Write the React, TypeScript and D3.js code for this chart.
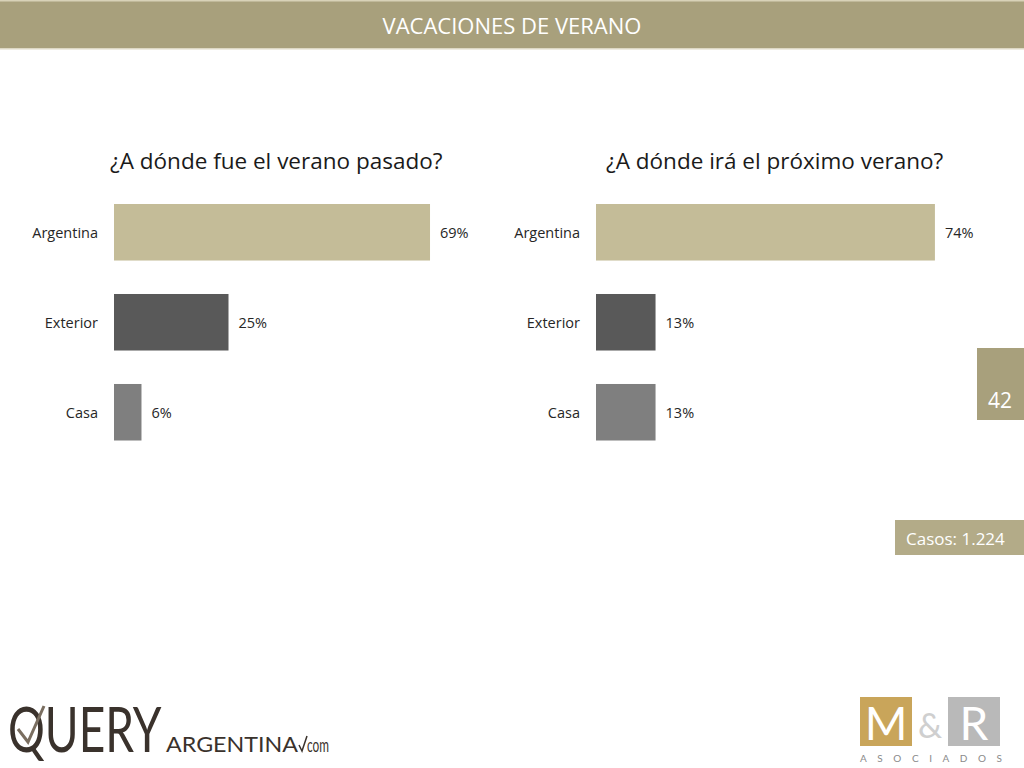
import React from 'react';
import * as d3 from 'd3';

const categories = ['Argentina', 'Exterior', 'Casa'];
const pastSummer = [69, 25, 6];
const nextSummer = [74, 13, 13];
const chartTitles = ['¿A dónde fue el verano pasado?', '¿A dónde irá el próximo verano?'];
const barColors = ['#c4bc98', '#595959', '#7f7f7f'];

const headerTitle = 'VACACIONES DE VERANO';
const pageNumber = '42';
const casesLabel = 'Casos: 1.224';

const GOLD = '#a8a07c';
const FONT = '"Open Sans", "Noto Sans", sans-serif';

interface BarChartProps {
  values: number[];
  title: string;
  x0: number;
  titleX: number;
}

const BarChart: React.FC<BarChartProps> = ({ values, title, x0, titleX }) => {
  // horizontal scale: pixels per percentage point
  const xScale = d3.scaleLinear().domain([0, 100]).range([0, 458]);
  const yScale = d3.scaleBand<string>()
    .domain(categories)
    .range([204, 440.5])
    .paddingInner(0.372)
    .paddingOuter(0);

  return (
    <g>
      <text x={titleX} y={169} fontSize={22.5} fill="#1a1a1a" fontFamily={FONT}>
        {title}
      </text>
      {categories.map((c, i) => {
        const y = yScale(c)!;
        const w = xScale(values[i]);
        const cy = y + yScale.bandwidth() / 2;
        return (
          <g key={c}>
            <rect x={x0} y={y} width={w} height={yScale.bandwidth()} fill={barColors[i]} />
            <text
              x={x0 - 16}
              y={cy}
              textAnchor="end"
              dominantBaseline="central"
              fontSize={14.5}
              fill="#262626"
              fontFamily={FONT}
            >
              {c}
            </text>
            <text
              x={x0 + w + 10}
              y={cy}
              dominantBaseline="central"
              fontSize={14.5}
              fill="#262626"
              fontFamily={FONT}
            >
              {values[i]}%
            </text>
          </g>
        );
      })}
    </g>
  );
};

const App: React.FC = () => {
  return (
    <svg
      width={1024}
      height={768}
      style={{ position: 'absolute', left: 0, top: 0, background: '#ffffff' }}
    >
      {/* header bar */}
      <rect x={0} y={0} width={1024} height={49} fill={GOLD} />
      <rect x={0} y={0} width={1024} height={1.5} fill="#d8d2b8" />
      <rect x={0} y={48} width={1024} height={1.5} fill="#ddd8c4" />
      <text
        x={512}
        y={25}
        textAnchor="middle"
        dominantBaseline="central"
        fontSize={22}
        fill="#ffffff"
        fontFamily={FONT}
      >
        {headerTitle}
      </text>

      <BarChart values={pastSummer} title={chartTitles[0]} x0={114} titleX={110} />
      <BarChart values={nextSummer} title={chartTitles[1]} x0={596} titleX={606} />

      {/* page number tab */}
      <rect x={977} y={348} width={47} height={72} fill={GOLD} />
      <text x={1000} y={408} textAnchor="middle" fontSize={21} fill="#ffffff" fontFamily={FONT}>
        {pageNumber}
      </text>

      {/* cases box */}
      <rect x={895} y={520} width={129} height={35} fill="#b3ab88" />
      <text x={906} y={538} dominantBaseline="central" fontSize={17} fill="#ffffff" fontFamily={FONT}>
        {casesLabel}
      </text>

      {/* Query Argentina logo */}
      <g fill="#3a322c" fontFamily='Lato, "Noto Sans", sans-serif'>
        <text transform="translate(8,752) scale(1,1.35)" fontSize={46} fontWeight={400}>
          QUERY
        </text>
        <text x={166} y={752} fontSize={21} fontWeight={400} textLength={132} lengthAdjust="spacingAndGlyphs">
          ARGENTINA
        </text>
        <text x={307} y={752} fontSize={20} fontWeight={400} textLength={22} lengthAdjust="spacingAndGlyphs">
          com
        </text>
        <path d="M18,729 L28,742 L44,706" fill="none" stroke="#7a6e60" strokeWidth={3} />
        <path d="M299,745 L302,751 L307,736" fill="none" stroke="#3a322c" strokeWidth={1.5} />
      </g>

      {/* M&R Asociados logo */}
      <rect x={860} y={697} width={52} height={49} fill="#c9a55a" />
      <text x={886} y={740} textAnchor="middle" fontSize={46} fill="#ffffff" fontFamily='Lato, sans-serif'>
        M
      </text>
      <text x={930} y={738} textAnchor="middle" fontSize={34} fill="#cfcfcf" fontFamily='Lato, sans-serif'>
        &amp;
      </text>
      <rect x={948} y={697} width={52} height={49} fill="#b9b9b9" />
      <text x={974} y={740} textAnchor="middle" fontSize={46} fill="#ffffff" fontFamily='Lato, sans-serif'>
        R
      </text>
      <text x={860} y={762} fontSize={10} fill="#8a8a8a" fontFamily='Lato, sans-serif' textLength={142} lengthAdjust="spacing">
        ASOCIADOS
      </text>
    </svg>
  );
};

export default App;
